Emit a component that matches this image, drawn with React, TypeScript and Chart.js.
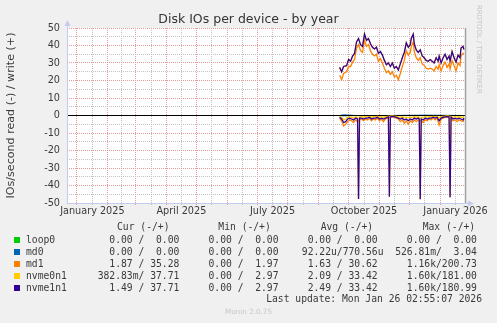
import React, { useEffect, useRef } from "react";
import { Chart, registerables } from "chart.js";

Chart.register(...registerables);

// ---- time axis (days since 22 Dec 2024, 400-day window) ----
const monthStartDays = [10, 41, 69, 100, 130, 161, 191, 222, 253, 283, 314, 344, 375];
const midMonthDays = [25.5, 55, 84.5, 115, 145.5, 176, 206.5, 237.5, 268, 298.5, 329, 359.5, 390.5];
const xLabelDays = [25.5, 115, 206.5, 298.5, 390.5];
const xLabels = ["January 2025", "April 2025", "July 2025", "October 2025", "January 2026"];

// ---- value axis ----
const yGridValues = [-50, -45, -40, -35, -30, -25, -20, -15, -10, -5, 0, 5, 10, 15, 20, 25, 30, 35, 40, 45, 50];
const yLabelValues = [-50, -40, -30, -20, -10, 0, 10, 20, 30, 40, 50];

// ---- write (+) series ----
const writeDays = [
  274, 276, 278, 281, 283, 285, 287, 289, 291, 293, 295, 297, 299, 301, 303, 305, 307, 309, 311, 313,
  315, 317, 319, 321, 323, 325, 327, 329, 331, 333, 335, 337, 339, 341, 343, 345, 346, 348, 349, 351,
  353, 355, 357, 359, 361, 363, 365, 367, 369, 371, 373, 374, 376, 378, 380, 382, 384, 385, 387, 389,
  391, 393, 395, 396, 398, 399,
];
const nvme1n1Write = [
  27.5, 25, 28, 28.5, 32, 31, 34, 35.5, 42, 44, 40.5, 39.5, 46.5, 43, 44, 41, 39, 38, 39, 35.5,
  36.5, 34.5, 31.5, 29, 30, 28, 30, 27, 28, 26, 29.5, 33, 36, 41.5, 39, 40.5, 44, 46.5, 41, 37.5,
  36, 37.5, 34, 33, 31.5, 31, 32, 31, 30, 33, 31, 34, 30, 33, 35, 32, 34, 31, 36.5, 33,
  30.5, 34.5, 33, 38.5, 39.5, 37.7,
];
const nvme0n1Write = [
  27.5, 25, 28, 28.5, 32, 31, 34, 35.5, 42, 44, 40.5, 39.5, 46.5, 43, 44, 41, 39, 38, 39, 35.5,
  36.5, 34.5, 31.5, 29, 30, 28, 30, 27, 28, 26, 29.5, 33, 36, 41.5, 39, 40.5, 44, 46.5, 41, 37.5,
  36, 37.5, 34, 33, 31.5, 31, 32, 31, 30, 33, 31, 34, 30, 33, 35, 32, 34, 31, 36.5, 33,
  30.5, 34.5, 33, 38.5, 39.5, 37.7,
];
const md1Write = [
  23, 20.5, 24, 25, 28, 28, 30.5, 32, 38.5, 40.5, 37, 36, 43, 39.5, 40.5, 37, 35, 34, 35, 31,
  32.5, 30, 27, 24.5, 25.5, 23.5, 25, 22, 23, 20.5, 24, 28, 31.5, 37, 34.5, 36, 39.5, 42, 36.5, 33,
  31.5, 33, 29.5, 28.5, 27, 26.5, 27, 26.5, 25.5, 28, 26.5, 29, 25.5, 28.5, 30.5, 27.5, 29.5, 26.5, 31.5, 28.5,
  25.5, 30, 28.5, 34, 35.5, 35.3,
];

// ---- read (-) series ----
const readDays = [
  274, 276, 278, 280, 282, 284, 286, 288, 290, 292, 293, 294, 296, 298, 300, 302, 304, 306, 308, 310,
  312, 314, 316, 318, 320, 322, 323, 324, 325, 327, 329, 331, 333, 335, 337, 339, 341, 343, 345, 347,
  349, 351, 353, 354, 355, 356, 358, 360, 362, 364, 366, 368, 370, 372, 374, 376, 378, 380, 382, 384,
  385, 386, 388, 390, 392, 394, 396, 398, 399,
];
const md1Read = [
  -1.5, -3, -6, -5, -3.5, -2.5, -3, -4, -2.5, -3.5, -3, -2.5, -2, -3, -2, -2.5, -1.5, -3, -2, -2.5,
  -1.5, -3, -2, -3.5, -2, -1.5, -1, -1, -1, -0.8, -1, -1.5, -2, -3.5, -2.5, -4.5, -3, -5, -3, -4,
  -2.5, -3.5, -2.5, -3, -3, -3, -4, -2.5, -3, -2, -2.5, -1.5, -2.5, -1.5, -5.5, -2, -1.5, -1, -0.8, -1,
  -1.5, -2, -3, -2.5, -3.5, -2.5, -3, -3.5, -1.9,
];
const nvme1n1Read = [
  -1, -2, -4, -3.5, -2, -1.5, -2, -2.5, -1.5, -2, -47.7, -1.5, -1.5, -2, -1.5, -1.5, -1, -2, -1.5, -1.5,
  -1, -2, -1.5, -2, -1.5, -1, -0.8, -46.4, -0.8, -0.5, -0.7, -1, -1.5, -2, -1.5, -2.5, -2, -3, -2, -2.5,
  -1.5, -2, -1.5, -2, -47.9, -2, -2.5, -1.5, -2, -1.5, -1.5, -1, -1.5, -1, -3, -1.5, -1, -0.8, -0.6, -0.8,
  -46.7, -1, -2, -1.5, -2, -1.5, -2, -2.5, -1.5,
];
const nvme0n1Read = [
  -0.5, -1, -2.5, -2, -1, -0.8, -1, -1.5, -0.8, -1, -47.7, -0.8, -0.7, -1, -0.6, -0.8, -0.5, -1, -0.7, -0.6,
  -0.5, -1, -0.7, -1, -0.6, -0.5, -0.4, -46.4, -0.4, -0.3, -0.4, -0.5, -0.8, -1, -0.7, -1.2, -1, -1.5, -1, -1.2,
  -0.7, -1, -0.8, -1, -47.9, -1, -1.2, -0.7, -1, -0.7, -0.8, -0.5, -0.7, -0.5, -1.5, -0.7, -0.5, -0.4, -0.3, -0.4,
  -46.7, -0.5, -1, -0.7, -1, -0.7, -1, -1.2, -0.4,
];

// ---- nearly-flat devices ----
const smallDays = [274, 278, 290, 320, 360, 399];
const md0Write = [0, 0.4, 0, 0, 0.2, 0];
const md0Read = [0, -0.2, 0, 0, 0, 0];
const loop0Write = [0, 0, 0, 0, 0, 0];
const loop0Read = [0, 0, 0, 0, 0, 0];

const zeroDays = [0, 400];
const zeroValues = [0, 0];

// ---- legend ----
const legendNames = ["loop0", "md0", "md1", "nvme0n1", "nvme1n1"];
const legendColors = ["#00CC00", "#0066B3", "#FF8000", "#FFCC00", "#330099"];
const curText = ["  0.00 /  0.00 ", "  0.00 /  0.00 ", "  1.87 / 35.28 ", "382.83m/ 37.71 ", "  1.49 / 37.71 "];
const minText = ["  0.00 /  0.00 ", "  0.00 /  0.00 ", "  0.00 /  1.97 ", "  0.00 /  2.97 ", "  0.00 /  2.97 "];
const avgText = ["  0.00 /  0.00 ", " 92.22u/770.56u", "  1.63 / 30.62 ", "  2.09 / 33.42 ", "  2.49 / 33.42 "];
const maxText = ["  0.00 /  0.00 ", "526.81m/  3.04 ", "  1.16k/200.73 ", "  1.60k/181.00 ", "  1.60k/180.99 "];
const headers = ["Cur (-/+)", "Min (-/+)", "Avg (-/+)", "Max (-/+)"];

const pts = (days: number[], vals: number[]) => days.map((d, i) => ({ x: d, y: vals[i] }));

const RED = "#e79a9a";
const GRAY = "#c2c2c2";
const AXIS = "#c3cbef";
const TEXT = "#3a3a3a";

export default function App() {
  const ref = useRef<HTMLCanvasElement>(null);

  useEffect(() => {
    document.body.style.margin = "0";
    const line = (label: string, days: number[], vals: number[], color: string, order: number, w = 1.3) => ({
      label,
      data: pts(days, vals),
      borderColor: color,
      backgroundColor: color,
      borderWidth: w,
      pointRadius: 0,
      tension: 0,
      fill: false,
      order,
    });

    const decor = {
      id: "decor",
      beforeDraw(chart: any) {
        const { ctx, chartArea: a } = chart;
        ctx.save();
        ctx.fillStyle = "#ffffff";
        ctx.fillRect(a.left, a.top, a.right - a.left, a.bottom - a.top);
        ctx.restore();
      },
      afterDraw(chart: any) {
        const { ctx, chartArea: a } = chart;
        ctx.save();
        ctx.setLineDash([]);
        // right frame line
        ctx.strokeStyle = "#a2a2a2";
        ctx.lineWidth = 1.5;
        ctx.beginPath();
        ctx.moveTo(a.right + 0.5, a.top);
        ctx.lineTo(a.right + 0.5, a.bottom);
        ctx.stroke();
        // axis lines and arrows
        ctx.strokeStyle = AXIS;
        ctx.fillStyle = AXIS;
        ctx.lineWidth = 1;
        ctx.beginPath();
        ctx.moveTo(a.left + 0.5, a.bottom);
        ctx.lineTo(a.left + 0.5, a.top - 3);
        ctx.moveTo(a.left, a.bottom + 0.5);
        ctx.lineTo(a.right + 4, a.bottom + 0.5);
        ctx.stroke();
        ctx.beginPath();
        ctx.moveTo(a.left + 0.5, a.top - 8);
        ctx.lineTo(a.left - 2.5, a.top - 2);
        ctx.lineTo(a.left + 3.5, a.top - 2);
        ctx.closePath();
        ctx.fill();
        ctx.beginPath();
        ctx.moveTo(a.right + 9, a.bottom + 0.5);
        ctx.lineTo(a.right + 3, a.bottom - 2.5);
        ctx.lineTo(a.right + 3, a.bottom + 3.5);
        ctx.closePath();
        ctx.fill();
        ctx.restore();
      },
    };

    const chart = new Chart(ref.current as HTMLCanvasElement, {
      type: "line",
      data: {
        datasets: [
          line("nvme1n1 write", writeDays, nvme1n1Write, "#330099", 0),
          line("nvme1n1 read", readDays, nvme1n1Read, "#330099", 0),
          line("nvme0n1 write", writeDays, nvme0n1Write, "#FFCC00", 1),
          line("nvme0n1 read", readDays, nvme0n1Read, "#FFCC00", 1),
          line("md1 write", writeDays, md1Write, "#FF8000", 2),
          line("md1 read", readDays, md1Read, "#FF8000", 2),
          line("zero", zeroDays, zeroValues, "#000000", 3, 1),
          line("md0 write", smallDays, md0Write, "#0066B3", 4, 1),
          line("md0 read", smallDays, md0Read, "#0066B3", 4, 1),
          line("loop0 write", smallDays, loop0Write, "#00CC00", 5, 1),
          line("loop0 read", smallDays, loop0Read, "#00CC00", 5, 1),
        ] as any,
      },
      options: {
        animation: false,
        responsive: false,
        maintainAspectRatio: false,
        devicePixelRatio: 1,
        events: [],
        layout: { padding: { left: 0, top: 28, right: 32, bottom: 100 } },
        plugins: { legend: { display: false }, tooltip: { enabled: false }, title: { display: false } },
        scales: {
          x: {
            type: "linear",
            min: 0,
            max: 400,
            afterBuildTicks: (scale: any) => {
              const t = [...monthStartDays, ...midMonthDays].sort((p, q) => p - q);
              scale.ticks = t.map((v) => ({ value: v }));
            },
            afterFit: (scale: any) => {
              scale.height = 20;
            },
            ticks: {
              autoSkip: false,
              maxRotation: 0,
              minRotation: 0,
              padding: 1,
              color: TEXT,
              font: { family: "'DejaVu Sans'", size: 9.7 },
              callback: (value: any) => {
                const i = xLabelDays.indexOf(Number(value));
                return i >= 0 ? xLabels[i] : " ";
              },
            },
            grid: {
              drawTicks: true,
              tickLength: 2,
              color: (c: any) => (c.tick && monthStartDays.indexOf(c.tick.value) >= 0 ? RED : GRAY),
              tickColor: (c: any) => (c.tick && monthStartDays.indexOf(c.tick.value) >= 0 ? RED : GRAY),
              lineWidth: 1,
            },
            border: { display: false, dash: [1, 1] },
          },
          y: {
            type: "linear",
            min: -50,
            max: 50,
            afterBuildTicks: (scale: any) => {
              scale.ticks = yGridValues.map((v) => ({ value: v }));
            },
            afterFit: (scale: any) => {
              scale.width = 67;
            },
            ticks: {
              autoSkip: false,
              padding: 7,
              color: TEXT,
              font: { family: "'DejaVu Sans'", size: 9.7 },
              callback: (value: any) => (yLabelValues.indexOf(Number(value)) >= 0 ? String(value) : " "),
            },
            grid: {
              drawTicks: false,
              color: (c: any) => (c.tick && yLabelValues.indexOf(c.tick.value) >= 0 ? RED : GRAY),
              lineWidth: 1,
            },
            border: { display: false, dash: [1, 1] },
            title: {
              display: true,
              text: "IOs/second read (-) / write (+)",
              color: TEXT,
              font: { family: "'DejaVu Sans'", size: 11.1 },
              padding: { top: 4, bottom: 0 },
            },
          },
        },
      } as any,
      plugins: [decor],
    });
    return () => chart.destroy();
  }, []);

  const rowTops = [234, 246, 258, 270, 282];
  const headerLefts = [117, 218.3, 320.7, 422.7];
  const mono = "'DejaVu Sans Mono', monospace";

  return (
    <div
      style={{
        position: "fixed",
        left: 0,
        top: 0,
        width: 497,
        height: 323,
        background: "#f0f0f0",
        overflow: "hidden",
        color: TEXT,
      }}
    >
      <canvas
        ref={ref}
        width={497}
        height={323}
        style={{ position: "absolute", left: 0, top: 0, width: 497, height: 323 }}
      />
      <div
        style={{
          position: "absolute",
          left: 0,
          top: 11,
          width: 497,
          textAlign: "center",
          font: "12.5px 'DejaVu Sans'",
          lineHeight: "15px",
          color: "#333",
        }}
      >
        Disk IOs per device - by year
      </div>
      <div
        style={{
          position: "absolute",
          left: 475,
          top: 5,
          writingMode: "vertical-rl",
          font: "6.9px 'DejaVu Sans'",
          lineHeight: "8px",
          color: "#c4c4c4",
          whiteSpace: "pre",
        }}
      >
        RRDTOOL / TOBI OETIKER
      </div>
      {headers.map((h, i) => (
        <div
          key={h}
          style={{
            position: "absolute",
            left: headerLefts[i],
            top: 221,
            font: `9.7px ${mono}`,
            lineHeight: "12px",
            whiteSpace: "pre",
          }}
        >
          {h}
        </div>
      ))}
      {legendNames.map((n, i) => (
        <React.Fragment key={n}>
          <div
            style={{
              position: "absolute",
              left: 14,
              top: rowTops[i] + 2.5,
              width: 6,
              height: 6,
              background: legendColors[i],
            }}
          />
          <div
            style={{
              position: "absolute",
              left: 26,
              top: rowTops[i],
              font: `9.7px ${mono}`,
              lineHeight: "12px",
              whiteSpace: "pre",
            }}
          >
            {n}
          </div>
          <div
            style={{
              position: "absolute",
              left: 97.7,
              top: rowTops[i],
              font: `9.7px ${mono}`,
              lineHeight: "12px",
              whiteSpace: "pre",
            }}
          >
            {curText[i] + "  " + minText[i] + "  " + avgText[i] + "  " + maxText[i]}
          </div>
        </React.Fragment>
      ))}
      <div
        style={{
          position: "absolute",
          right: 15,
          top: 293,
          font: `9.7px ${mono}`,
          lineHeight: "12px",
          whiteSpace: "pre",
        }}
      >
        Last update: Mon Jan 26 02:55:07 2026
      </div>
      <div
        style={{
          position: "absolute",
          left: 0,
          top: 307,
          width: 497,
          textAlign: "center",
          font: "7.2px 'DejaVu Sans'",
          lineHeight: "10px",
          color: "#c8c8c8",
        }}
      >
        Munin 2.0.75
      </div>
    </div>
  );
}
